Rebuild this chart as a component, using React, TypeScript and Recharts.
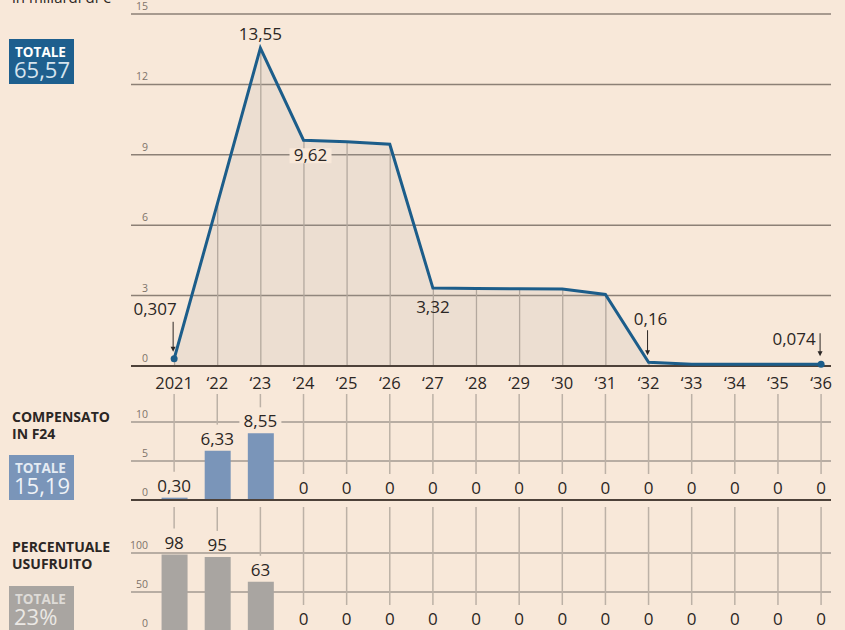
import React from "react";
import {
  Area,
  Bar,
  CartesianGrid,
  ComposedChart,
  LabelList,
  Line,
  ReferenceLine,
  XAxis,
  YAxis,
} from "recharts";

// anni e valori (miliardi di euro)
const years = [2021, 2022, 2023, 2024, 2025, 2026, 2027, 2028, 2029, 2030, 2031, 2032, 2033, 2034, 2035, 2036];
const yearLabels = ["2021", "‘22", "‘23", "‘24", "‘25", "‘26", "‘27", "‘28", "‘29", "‘30", "‘31", "‘32", "‘33", "‘34", "‘35", "‘36"];
const creditValues = [0.307, 6.9, 13.55, 9.62, 9.56, 9.45, 3.32, 3.3, 3.29, 3.28, 3.05, 0.16, 0.074, 0.074, 0.074, 0.074];
const compensatoValues = [0.3, 6.33, 8.55, 0, 0, 0, 0, 0, 0, 0, 0, 0, 0, 0, 0, 0];
const usufruitoValues = [98, 95, 63, 0, 0, 0, 0, 0, 0, 0, 0, 0, 0, 0, 0, 0];
const creditTicks = [0, 3, 6, 9, 12, 15];
const compensatoTicks = [0, 5, 10];
const usufruitoTicks = [0, 50, 100];
const totaleCredito = 65.57;
const totaleCompensato = 15.19;
const totaleUsufruito = 23;

const creditData = years.map((year, i) => ({ year, value: creditValues[i] }));
const compensatoData = years.map((year, i) => ({ year, value: compensatoValues[i] }));
const usufruitoData = years.map((year, i) => ({ year, value: usufruitoValues[i] }));

const BG = "#f8e8d9";
const INK = "#2b2624";
const TICK = "#7e736a";
const GRID_TOP = "#8c8076";
const GRID = "#a39a91";
const BASE = "#4d4139";
const GUIDE = "#bcb1a6";
const LINE = "#1c5d8a";
const BLUE_BAR = "#7a95b9";
const GRAY_BAR = "#a9a5a1";
const FONT = "'Open Sans', sans-serif";

const X_DOMAIN: [number, number] = [2020, 2036.23];
const comma = (v: number) => String(v).replace(".", ",");

// posizione delle etichette sulla linea
const creditLabelStyle: Record<number, { dx: number; dy: number; arrow?: [number, number]; knockout?: boolean }> = {
  0: { dx: -19, dy: -44, arrow: [-37, -7] },
  2: { dx: 0, dy: -8 },
  3: { dx: 7, dy: 21, knockout: true },
  6: { dx: 0, dy: 25 },
  11: { dx: 2, dy: -37, arrow: [-32, -7] },
  15: { dx: -27, dy: -19, arrow: [-31, -8] },
};

const yTick = (props: any) => (
  <text x={props.x + 17} y={props.y - 4} textAnchor="end" fontSize={10.5} fill={TICK} fontFamily={FONT}>
    {props.payload.value}
  </text>
);

const xTick = (props: any) => (
  <text x={props.x} y={props.y + 23} textAnchor="middle" fontSize={16.5} fill={INK} fontFamily={FONT}>
    {yearLabels[years.indexOf(props.payload.value)]}
  </text>
);

const creditLabel = (props: any) => {
  const { x, y, value, index } = props;
  const s = creditLabelStyle[index];
  if (!s) return null;
  const text = comma(value);
  const w = text.length * 9.5 + 4;
  const tx = x + s.dx;
  const ty = y + s.dy;
  return (
    <g key={`cl-${index}`}>
      {s.knockout && <rect x={tx - w / 2} y={ty - 13} width={w} height={15} fill={BG} />}
      {s.arrow && (
        <g>
          <line x1={x - 1} x2={x - 1} y1={y + s.arrow[0]} y2={y + s.arrow[1] - 4} stroke={INK} strokeWidth={1} />
          <polygon
            points={`${x - 3.5},${y + s.arrow[1] - 5} ${x + 1.5},${y + s.arrow[1] - 5} ${x - 1},${y + s.arrow[1]}`}
            fill={INK}
          />
        </g>
      )}
      <text x={tx} y={ty} textAnchor="middle" fontSize={17} fill={INK} fontFamily={FONT}>
        {text}
      </text>
    </g>
  );
};

const creditDot = (props: any) => {
  const { cx, cy, index } = props;
  if (index !== 0 && index !== years.length - 1) return <g key={`d-${index}`} />;
  return <circle key={`d-${index}`} cx={cx} cy={cy} r={3.5} fill={LINE} />;
};

const guideShape = (props: any) => {
  const { x, y, width, height } = props;
  const cx = x + width / 2;
  return <line x1={cx} x2={cx} y1={y} y2={y + height} stroke="#b3a89e" strokeWidth={1.3} />;
};

// etichette e linee guida sopra le barre (anche per gli zeri)
const barLabel = (guideTop: number, knockout: boolean, format: (v: number) => string) => (props: any) => {
  const { x, y, value, index } = props;
  const text = format(value);
  const base = y - 6;
  const w = text.length * 9.5 + 4;
  return (
    <g key={`bl-${index}`}>
      <line x1={x} x2={x} y1={guideTop} y2={y - 26} stroke={GUIDE} strokeWidth={1.5} />
      {knockout && <rect x={x - w / 2} y={base - 13} width={w} height={14} fill={BG} />}
      <text x={x} y={base} textAnchor="middle" fontSize={17} fill={INK} fontFamily={FONT}>
        {text}
      </text>
    </g>
  );
};

const fmtCompensato = (v: number) => (v === 0 ? "0" : v.toFixed(2).replace(".", ","));
const fmtUsufruito = (v: number) => String(v);

const yAxisProps = {
  type: "number" as const,
  interval: 0 as const,
  width: 20,
  axisLine: false,
  tickLine: false,
  tickSize: 0,
  tickMargin: 0,
  tick: yTick,
};

// riquadro "TOTALE" a sinistra
const TotalBox = ({ top, height, bg, labelColor, valueColor, value }: any) => (
  <div style={{ position: "absolute", left: 9, top, width: 65, height, background: bg }}>
    <div
      style={{
        position: "absolute",
        left: 6,
        top: 6.8,
        fontSize: 13.5,
        lineHeight: "12px",
        fontWeight: 700,
        color: labelColor,
      }}
    >
      TOTALE
    </div>
    <div
      style={{
        position: "absolute",
        left: 5,
        top: 22,
        fontSize: 22,
        lineHeight: "17px",
        color: valueColor,
      }}
    >
      {value}
    </div>
  </div>
);

export default function App() {
  return (
    <div
      style={{
        position: "absolute",
        left: 0,
        top: 0,
        width: 845,
        height: 630,
        overflow: "hidden",
        background: BG,
        fontFamily: FONT,
      }}
    >
      <svg width={845} height={630} style={{ position: "absolute", left: 0, top: 0 }}>
        <text x={12} y={3} fontSize={15} fill={INK} fontFamily={FONT}>
          in miliardi di €
        </text>
        <text x={12} y={422} fontSize={14} fontWeight={700} fill={INK} fontFamily={FONT}>
          COMPENSATO
        </text>
        <text x={12} y={439} fontSize={14} fontWeight={700} fill={INK} fontFamily={FONT}>
          IN F24
        </text>
        <text x={12} y={552} fontSize={14} fontWeight={700} fill={INK} fontFamily={FONT}>
          PERCENTUALE
        </text>
        <text x={12} y={569} fontSize={14} fontWeight={700} fill={INK} fontFamily={FONT}>
          USUFRUITO
        </text>
      </svg>

      <TotalBox top={39} height={45} bg="#1e5f8e" labelColor="#ffffff" valueColor="#d6e4ee" value={comma(totaleCredito)} />
      <TotalBox top={455} height={45} bg={BLUE_BAR} labelColor="#e4ebf3" valueColor="#eef2f7" value={comma(totaleCompensato)} />
      <TotalBox top={586} height={50} bg={GRAY_BAR} labelColor="#dedbd7" valueColor="#ebe8e4" value={`${totaleUsufruito}%`} />

      {/* credito d'imposta per anno */}
      <div style={{ position: "absolute", left: 0, top: 0 }}>
        <ComposedChart width={845} height={400} data={creditData} margin={{ top: 14, right: 14, bottom: 0, left: 111 }}>
          <CartesianGrid vertical={false} stroke={GRID_TOP} strokeWidth={1.5} />
          <XAxis
            dataKey="year"
            type="number"
            domain={X_DOMAIN}
            ticks={years}
            interval={0}
            height={34}
            axisLine={false}
            tickLine={false}
            tickSize={0}
            tickMargin={0}
            tick={xTick}
          />
          <YAxis {...yAxisProps} domain={[0, 15]} ticks={creditTicks} />
          <Area
            dataKey="value"
            type="linear"
            stroke="none"
            fill="#a5a5a5"
            fillOpacity={0.15}
            isAnimationActive={false}
          />
          <Bar dataKey="value" barSize={2} shape={guideShape} isAnimationActive={false} />
          <ReferenceLine y={0} stroke={BASE} strokeWidth={2} />
          <Line
            dataKey="value"
            type="linear"
            stroke={LINE}
            strokeWidth={3}
            dot={creditDot}
            activeDot={false}
            isAnimationActive={false}
          >
            <LabelList dataKey="value" content={creditLabel} />
          </Line>
        </ComposedChart>
      </div>

      {/* compensato in F24 */}
      <div style={{ position: "absolute", left: 0, top: 385 }}>
        <ComposedChart width={845} height={120} data={compensatoData} margin={{ top: 37, right: 14, bottom: 5, left: 111 }}>
          <CartesianGrid vertical={false} stroke={GRID} strokeWidth={1.5} />
          <XAxis dataKey="year" type="number" domain={X_DOMAIN} ticks={years} hide />
          <YAxis {...yAxisProps} domain={[0, 10]} ticks={compensatoTicks} />
          <ReferenceLine y={0} stroke={BASE} strokeWidth={2} />
          <Bar dataKey="value" barSize={26} fill={BLUE_BAR} isAnimationActive={false} />
          <Line dataKey="value" stroke="none" dot={false} activeDot={false} isAnimationActive={false}>
            <LabelList dataKey="value" content={barLabel(9, true, fmtCompensato)} />
          </Line>
        </ComposedChart>
      </div>

      {/* percentuale usufruito */}
      <div style={{ position: "absolute", left: 0, top: 500 }}>
        <ComposedChart width={845} height={140} data={usufruitoData} margin={{ top: 53, right: 14, bottom: 9, left: 111 }}>
          <CartesianGrid vertical={false} stroke={GRID} strokeWidth={1.5} />
          <XAxis dataKey="year" type="number" domain={X_DOMAIN} ticks={years} hide />
          <YAxis {...yAxisProps} domain={[0, 100]} ticks={usufruitoTicks} />
          <Bar dataKey="value" barSize={26} fill={GRAY_BAR} isAnimationActive={false} />
          <Line dataKey="value" stroke="none" dot={false} activeDot={false} isAnimationActive={false}>
            <LabelList dataKey="value" content={barLabel(7, false, fmtUsufruito)} />
          </Line>
        </ComposedChart>
      </div>
    </div>
  );
}
